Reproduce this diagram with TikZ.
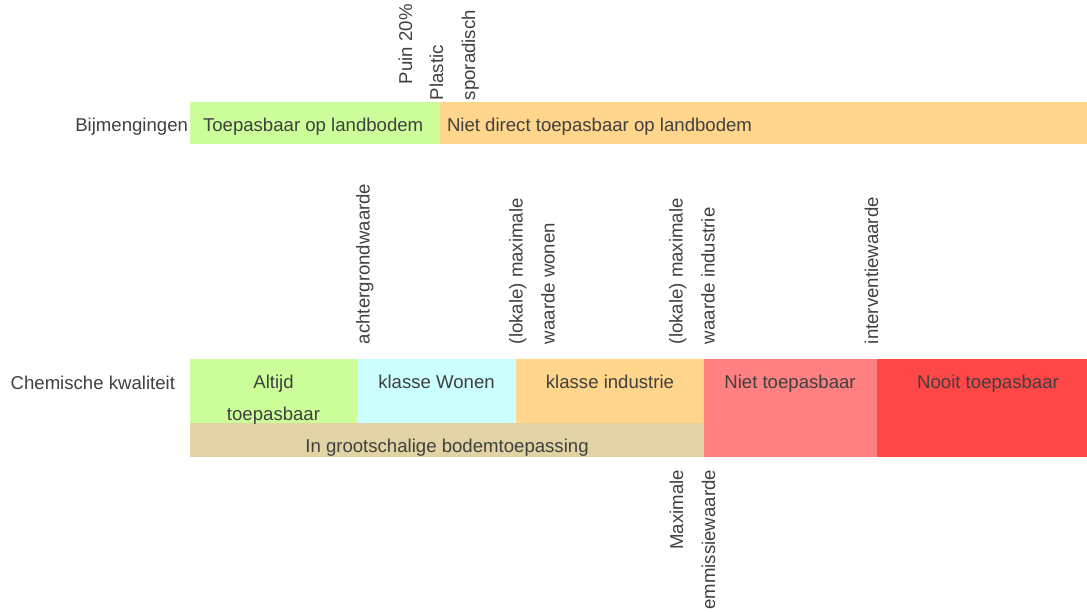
\documentclass[tikz,border=0pt]{standalone}
\usepackage{fontspec}
\setmainfont{Liberation Sans}
\definecolor{cgreen}{HTML}{CCFF99}
\definecolor{corange}{HTML}{FFD68B}
\definecolor{ccyan}{HTML}{CCFFFF}
\definecolor{ctan}{HTML}{E1D3A3}
\definecolor{cpink}{HTML}{FF8080}
\definecolor{cred}{HTML}{FF4747}
\definecolor{ctext}{HTML}{404040}
\tikzset{
  cell/.style={rectangle, draw=none, inner sep=0pt, outer sep=0pt, anchor=north west},
  txt/.style={inner sep=0pt, outer sep=0pt, text=ctext, font=\fontsize{18.6}{32}\selectfont},
  vlabel/.style={txt, rotate=90, align=left, anchor=base west},
  vlabelr/.style={txt, rotate=90, align=right, anchor=base east},
}
\begin{document}
\begin{tikzpicture}[x=1pt, y=-1pt]
\useasboundingbox (0,0) rectangle (1087,611);
% row 1
\node[cell, fill=cgreen, minimum width=250, minimum height=42] (b1) at (190,102) {};
\node[cell, fill=corange, minimum width=647, minimum height=42] (b2) at (440,102) {};
\node[txt, anchor=base east] (lb) at (188,131) {Bijmengingen};
\node[txt, anchor=base west] (tb1) at (203,131) {Toepasbaar op landbodem};
\node[txt, anchor=base west] (tb2) at (447,131) {Niet direct toepasbaar op landbodem};
\node[vlabel] (puin) at (412,84) {Puin 20\%};
\node[vlabel] (plastic) at (475,100) {Plastic\\sporadisch};
% row 2
\node[cell, fill=cgreen, minimum width=167, minimum height=64] (c1) at (190,359) {};
\node[cell, fill=ccyan, minimum width=159, minimum height=64] (c2) at (357,359) {};
\node[cell, fill=corange, minimum width=188, minimum height=64] (c3) at (516,359) {};
\node[cell, fill=ctan, minimum width=514, minimum height=34] (c4) at (190,423) {};
\node[cell, fill=cpink, minimum width=173, minimum height=98] (c5) at (704,359) {};
\node[cell, fill=cred, minimum width=210, minimum height=98] (c6) at (877,359) {};
\node[txt, anchor=base east] (lc) at (175,389) {Chemische kwaliteit};
\node[txt, anchor=base, align=center] (t1) at (273.5,420.5) {Altijd\\toepasbaar};
\node[txt, anchor=base] (t2) at (436.5,388.5) {klasse Wonen};
\node[txt, anchor=base] (t3) at (610,388.5) {klasse industrie};
\node[txt, anchor=base] (t4) at (447,452) {In grootschalige bodemtoepassing};
\node[txt, anchor=base] (t5) at (790,388.5) {Niet toepasbaar};
\node[txt, anchor=base] (t6) at (988,388.5) {Nooit toepasbaar};
% threshold labels
\node[vlabel] (agw) at (369.5,344) {achtergrondwaarde};
\node[vlabel] (mww) at (554.5,344) {(lokale) maximale\\waarde wonen};
\node[vlabel] (mwi) at (714.5,344) {(lokale) maximale\\waarde industrie};
\node[vlabel] (iw) at (878,344) {interventiewaarde};
\node[vlabelr] (mew) at (715,470) {Maximale\\emmissiewaarde};
\end{tikzpicture}
\end{document}
